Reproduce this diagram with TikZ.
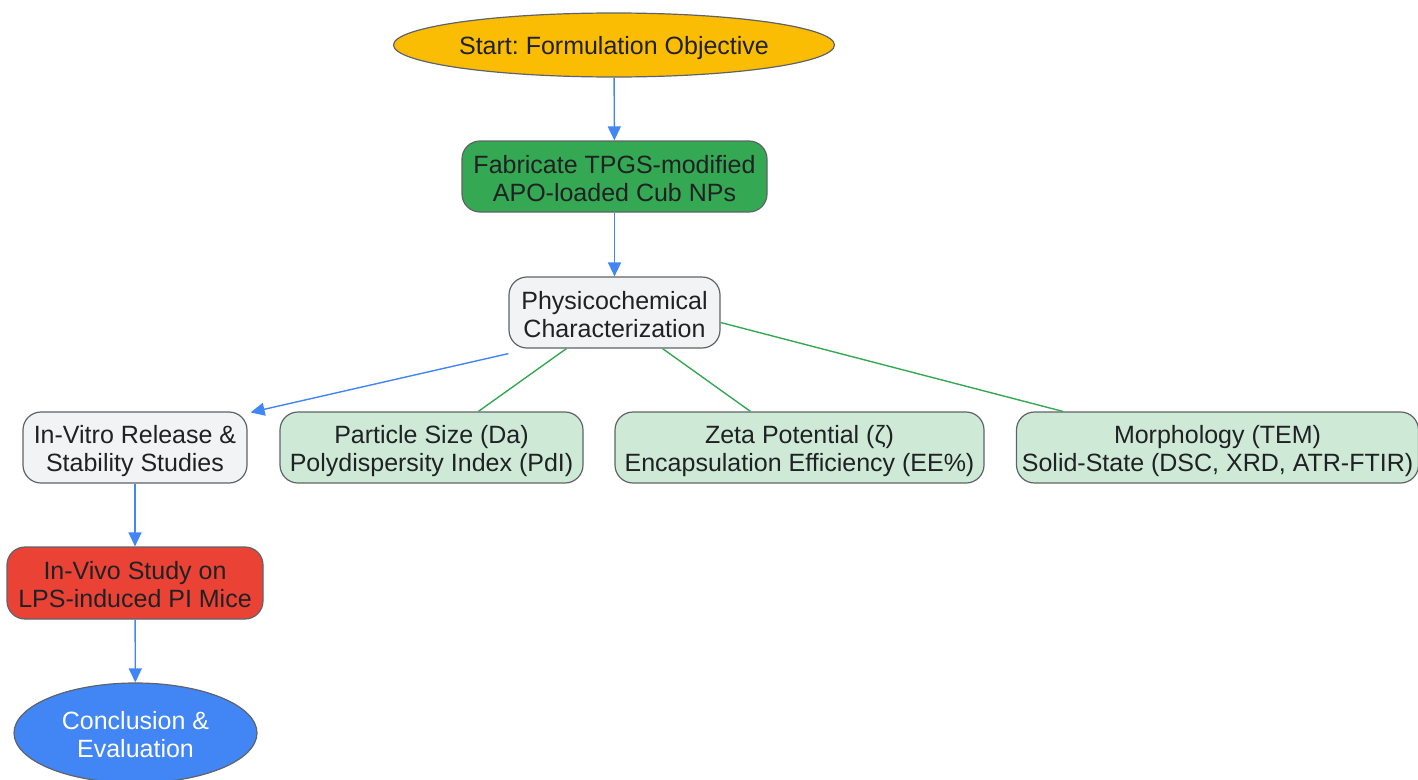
\documentclass[tikz,border=0pt]{standalone}
\usepackage{fontspec}
\setmainfont{Liberation Sans}
\usetikzlibrary{arrows.meta,shapes.geometric}
\definecolor{txt}{HTML}{202124}
\definecolor{bord}{HTML}{5F6368}
\definecolor{cyellow}{HTML}{FBBC04}
\definecolor{cgreen}{HTML}{34A853}
\definecolor{cgrey}{HTML}{F1F3F4}
\definecolor{clgreen}{HTML}{CEEAD6}
\definecolor{cred}{HTML}{EA4335}
\definecolor{cblue}{HTML}{4285F4}
\frenchspacing
\newcommand{\mytwo}[2]{\rule{0pt}{25pt}#1\\#2\rule[-4pt]{0pt}{4pt}}
\newcommand{\myone}[1]{\rule{0pt}{23.5pt}#1\rule[-4.5pt]{0pt}{4.5pt}}
\tikzset{
  base/.style={draw=bord, line width=1.2pt, text=txt, font=\fontsize{25}{28}\selectfont, align=center, inner sep=0pt},
  boxnode/.style={base, rectangle, rounded corners=18pt},
  ellnode/.style={base, ellipse},
  flow/.style={draw=cblue, line width=1.4pt, -{Triangle[length=14pt,width=13pt]}},
  link/.style={draw=cgreen, line width=1.4pt},
}
\begin{document}
\begin{tikzpicture}[x=1pt,y=-1pt]
\useasboundingbox (0,0) rectangle (1418,779);
\node[ellnode, fill=cyellow, minimum width=441pt, minimum height=64pt] (start) at (614,45) {\myone{Start: Formulation Objective}};
\node[boxnode, fill=cgreen, minimum width=305pt, minimum height=71pt] (fab) at (614.5,176.5) {\mytwo{Fabricate TPGS-modified}{APO-loaded Cub NPs}};
\node[boxnode, fill=cgrey, minimum width=211pt, minimum height=71pt] (phys) at (614.5,312.5) {\mytwo{Physicochemical}{Characterization}};
\node[boxnode, fill=cgrey, minimum width=224pt, minimum height=71pt] (vitro) at (135,447.5) {\mytwo{In-Vitro Release \&}{Stability Studies}};
\node[boxnode, fill=clgreen, minimum width=303pt, minimum height=71pt] (size) at (431.5,447.5) {\mytwo{Particle Size (Da)}{Polydispersity Index (PdI)}};
\node[boxnode, fill=clgreen, minimum width=369pt, minimum height=71pt] (zeta) at (799.5,447.5) {\mytwo{Zeta Potential (ζ)}{Encapsulation Efficiency (EE\%)}};
\node[boxnode, fill=clgreen, minimum width=402pt, minimum height=71pt] (morph) at (1217.5,447.5) {\mytwo{Morphology (TEM)}{Solid-State (DSC, XRD, ATR-FTIR)}};
\node[boxnode, fill=cred, minimum width=256pt, minimum height=72pt] (vivo) at (135,583) {\mytwo{In-Vivo Study on}{LPS-induced PI Mice}};
\node[ellnode, fill=cblue, text=white, minimum width=243pt, minimum height=100pt] (concl) at (135.5,733) {\mytwo{Conclusion \&}{Evaluation}};

\coordinate (pv) at ([yshift=-5pt]phys.south west);
\coordinate (vt) at ([xshift=3pt,yshift=-1pt]vitro.north east);
\draw[flow] (start) -- (fab);
\draw[flow] (fab) -- (phys);
\draw[flow] (pv) -- (vt);
\draw[flow] (vitro) -- (vivo);
\draw[flow] (vivo) -- (concl);
\draw[link] ([xshift=58pt]phys.south west) -- ([xshift=199pt]size.north west);
\draw[link] ([xshift=-58pt]phys.south east) -- ([xshift=136pt]zeta.north west);
\draw[link] ([yshift=-10pt]phys.east) -- ([xshift=47pt]morph.north west);
\end{tikzpicture}
\end{document}
